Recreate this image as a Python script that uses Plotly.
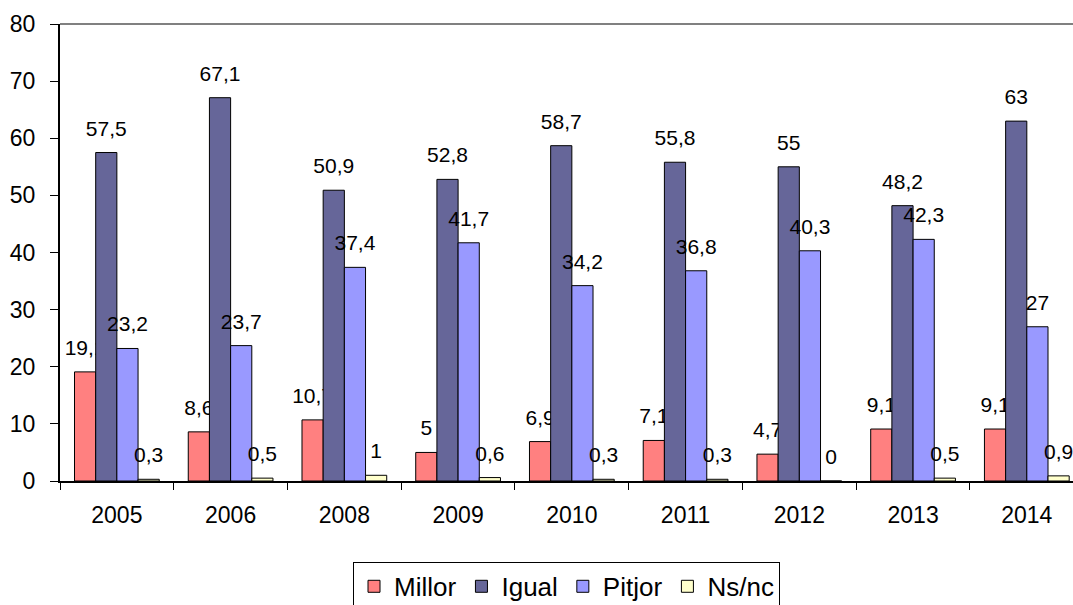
import plotly.graph_objects as go

years = ["2005", "2006", "2008", "2009", "2010", "2011", "2012", "2013", "2014"]
millor = [19.1, 8.6, 10.7, 5, 6.9, 7.1, 4.7, 9.1, 9.1]
igual = [57.5, 67.1, 50.9, 52.8, 58.7, 55.8, 55, 48.2, 63]
pitjor = [23.2, 23.7, 37.4, 41.7, 34.2, 36.8, 40.3, 42.3, 27]
nsnc = [0.3, 0.5, 1, 0.6, 0.3, 0.3, 0, 0.5, 0.9]

series = [
    ("Millor", millor, "#FF8080"),
    ("Igual", igual, "#666699"),
    ("Pitjor", pitjor, "#9999FF"),
    ("Ns/nc", nsnc, "#FFFFCC"),
]

FONT = "Arial, Liberation Sans, sans-serif"
PAD = "<span style='font-size:64px'>&nbsp;</span>"


def lab(v):
    return PAD + f"{v:g}".replace(".", ",") + PAD


fig = go.Figure()
for name, vals, col in series:
    fig.add_trace(go.Bar(
        x=years, y=vals, name=name,
        marker=dict(color=col, line=dict(color="black", width=1)),
        text=[lab(v) for v in vals],
        textposition="outside",
        constraintext="none",
        cliponaxis=False,
        textfont=dict(family=FONT, size=21, color="black"),
    ))

fig.update_layout(
    width=1073, height=605,
    margin=dict(l=60, r=0, t=24, b=124, autoexpand=False),
    paper_bgcolor="white", plot_bgcolor="white",
    barmode="group", bargap=0.255, bargroupgap=0,
    font=dict(family=FONT, color="black"),
    showlegend=True,
    legend=dict(
        orientation="h", x=0.5, xanchor="center", y=-0.177, yanchor="top",
        bordercolor="black", borderwidth=1,
        font=dict(family=FONT, size=26, color="black"),
        traceorder="normal",
    ),
    shapes=[dict(type="line", xref="paper", yref="paper", x0=0, x1=1, y0=1, y1=1,
                 line=dict(color="#808080", width=2), layer="below")],
)
fig.update_xaxes(
    type="category", range=[-0.5, 8.406], automargin=False,
    showline=True, linecolor="black", linewidth=2,
    ticks="outside", tickson="boundaries", ticklen=7, tickcolor="black", tickwidth=1,
    ticklabelstandoff=12,
    showgrid=False, tickfont=dict(family=FONT, size=23, color="black"),
)
fig.update_yaxes(
    range=[0, 80], dtick=10, automargin=False,
    showline=True, linecolor="black", linewidth=2,
    ticks="outside", ticklen=8, tickcolor="black", tickwidth=1,
    ticklabelstandoff=10,
    showgrid=False, zeroline=False,
    tickfont=dict(family=FONT, size=23, color="black"),
)

fig.write_html(
    "out.html",
    config={"displayModeBar": False},
    post_script="document.body.style.margin='0';document.body.style.overflow='hidden';",
)
